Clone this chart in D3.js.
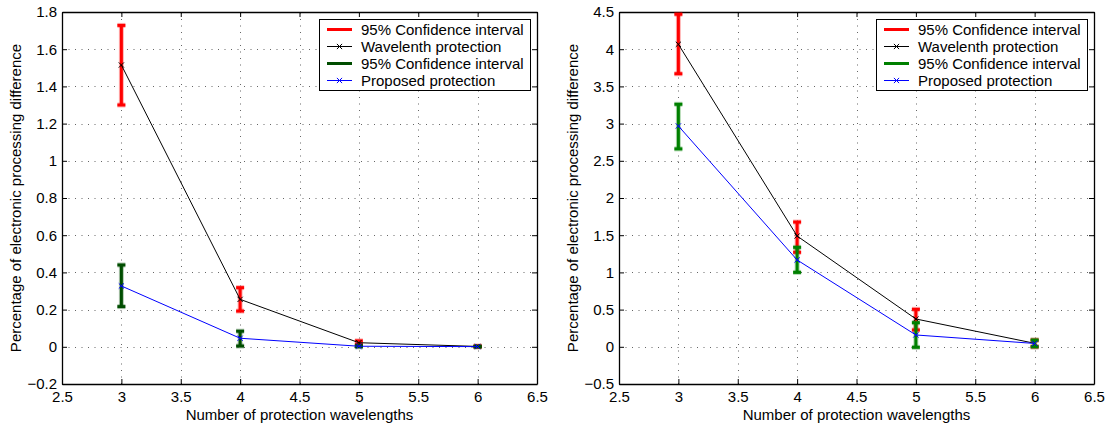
<!DOCTYPE html>
<html>
<head>
<meta charset="utf-8">
<script src="https://cdn.jsdelivr.net/npm/d3@7"></script>
<style>
  body { margin: 0; background: #fff; }
  svg text { font-family: "Liberation Sans", Arial, Helvetica, sans-serif; font-size: 15px; fill: #000; }
</style>
</head>
<body>
<svg id="chart" width="1112" height="425"></svg>
<script>
// Number of protection wavelengths (shared x values)
const wavelengths = [3, 4, 5, 6];
const xTicks = [2.5, 3, 3.5, 4, 4.5, 5, 5.5, 6, 6.5];

// Left panel: percentage difference with 95% confidence bounds
const leftYTicks = [-0.2, 0, 0.2, 0.4, 0.6, 0.8, 1, 1.2, 1.4, 1.6, 1.8];
const leftWavelengthMean = [1.515, 0.255, 0.022, 0.002];
const leftWavelengthLow  = [1.300, 0.192, 0.012, 0.000];
const leftWavelengthHigh = [1.728, 0.318, 0.032, 0.004];
const leftProposedMean   = [0.327, 0.046, 0.003, 0.001];
const leftProposedLow    = [0.216, 0.004, 0.000, 0.000];
const leftProposedHigh   = [0.440, 0.084, 0.006, 0.002];

// Right panel
const rightYTicks = [-0.5, 0, 0.5, 1, 1.5, 2, 2.5, 3, 3.5, 4, 4.5];
const rightWavelengthMean = [4.066, 1.489, 0.374, 0.047];
const rightWavelengthLow  = [3.670, 1.270, 0.226, 0.000];
const rightWavelengthHigh = [4.470, 1.677, 0.504, 0.090];
const rightProposedMean   = [2.968, 1.167, 0.159, 0.045];
const rightProposedLow    = [2.660, 1.000, -0.007, 0.000];
const rightProposedHigh   = [3.260, 1.337, 0.324, 0.090];

const legendLabels = ["95% Confidence interval", "Wavelenth protection", "95% Confidence interval", "Proposed protection"];
const xLabel = "Number of protection wavelengths";
const yLabel = "Percentage of electronic processing difference";

const svg = d3.select("#chart");
const fmt = d3.format("~g");

function drawPanel(cfg) {
  const x = d3.scaleLinear().domain([2.5, 6.5]).range([cfg.left, cfg.right]);
  const y = d3.scaleLinear().domain(cfg.yDomain).range([cfg.bottom, cfg.top]);
  const g = svg.append("g");

  // dotted grid
  const grid = g.append("g").attr("stroke", "#000").attr("stroke-opacity", 0.6)
    .attr("stroke-width", 1).attr("stroke-dasharray", "1,5.5").attr("fill", "none");
  xTicks.slice(1, -1).forEach(t => {
    grid.append("line").attr("x1", Math.round(x(t)) + 0.5).attr("x2", Math.round(x(t)) + 0.5)
      .attr("y1", cfg.bottom).attr("y2", cfg.top);
  });
  cfg.yTicks.slice(1, -1).forEach(t => {
    grid.append("line").attr("y1", Math.round(y(t)) + 0.5).attr("y2", Math.round(y(t)) + 0.5)
      .attr("x1", cfg.left).attr("x2", cfg.right);
  });

  // axes with inward ticks on all four sides
  const bottomAxis = g.append("g").attr("transform", `translate(0,${cfg.bottom})`)
    .call(d3.axisBottom(x).tickValues(xTicks).tickFormat(fmt).tickSizeInner(-5).tickSizeOuter(0).tickPadding(7));
  const topAxis = g.append("g").attr("transform", `translate(0,${cfg.top})`)
    .call(d3.axisTop(x).tickValues(xTicks).tickFormat("").tickSizeInner(-5).tickSizeOuter(0));
  const leftAxis = g.append("g").attr("transform", `translate(${cfg.left},0)`)
    .call(d3.axisLeft(y).tickValues(cfg.yTicks).tickFormat(fmt).tickSizeInner(-5).tickSizeOuter(0).tickPadding(5));
  const rightAxis = g.append("g").attr("transform", `translate(${cfg.right},0)`)
    .call(d3.axisRight(y).tickValues(cfg.yTicks).tickFormat("").tickSizeInner(-5).tickSizeOuter(0));
  [bottomAxis, topAxis, leftAxis, rightAxis].forEach(a => {
    a.selectAll("path.domain").attr("stroke", "#000").attr("stroke-width", 1.3);
    a.selectAll(".tick line").attr("stroke", "#000");
    a.selectAll("text").attr("font-size", 15).attr("font-family", null).attr("fill", "#000");
  });

  // axis titles
  g.append("text").attr("x", (cfg.left + cfg.right) / 2).attr("y", 420)
    .attr("text-anchor", "middle").text(xLabel);
  g.append("text").attr("transform", `translate(${cfg.left - 41},${(cfg.top + cfg.bottom) / 2}) rotate(-90)`)
    .attr("text-anchor", "middle").text(yLabel);

  const lineGen = d3.line().x(d => x(d[0])).y(d => y(d[1]));

  function errorBars(low, high, color) {
    const eb = g.append("g").attr("fill", "none").attr("stroke-linecap", "butt");
    [{w: 5, o: 0.3}, {w: 3, o: 1}].forEach(s => {
      wavelengths.forEach((w, i) => {
        const cx = x(w), y0 = y(low[i]), y1 = y(high[i]);
        eb.append("line").attr("x1", cx).attr("x2", cx).attr("y1", y0).attr("y2", y1)
          .attr("stroke", color).attr("stroke-width", s.w).attr("stroke-opacity", s.o);
        [y0, y1].forEach(yy => {
          eb.append("line").attr("x1", cx - 4).attr("x2", cx + 4).attr("y1", yy).attr("y2", yy)
            .attr("stroke", color).attr("stroke-width", s.w).attr("stroke-opacity", s.o);
        });
      });
    });
  }

  function xMarker(sel, cx, cy, color) {
    const r = 2.6;
    sel.append("path").attr("d", `M${cx - r},${cy - r}L${cx + r},${cy + r}M${cx - r},${cy + r}L${cx + r},${cy - r}`)
      .attr("stroke", color).attr("stroke-width", 1).attr("fill", "none");
  }

  function series(mean, color) {
    const s = g.append("g");
    s.append("path").datum(wavelengths.map((w, i) => [w, mean[i]]))
      .attr("d", lineGen).attr("fill", "none").attr("stroke", color).attr("stroke-width", 1);
    wavelengths.forEach((w, i) => xMarker(s, x(w), y(mean[i]), color));
  }

  errorBars(cfg.wLow, cfg.wHigh, "#ff0000");
  series(cfg.wMean, "#000000");
  errorBars(cfg.pLow, cfg.pHigh, cfg.green);
  series(cfg.pMean, "#0000ff");

  // legend
  const lw = 211, lh = 71;
  const lx = cfg.right - 7 - lw, ly = cfg.top + 7;
  const lg = g.append("g").attr("transform", `translate(${lx},${ly})`);
  lg.append("rect").attr("x", 0.5).attr("y", 0.5).attr("width", lw).attr("height", lh)
    .attr("fill", "#fff").attr("stroke", "#000").attr("stroke-width", 1);
  const styles = [
    {color: "#ff0000", thick: true},
    {color: "#000000", thick: false},
    {color: cfg.green, thick: true},
    {color: "#0000ff", thick: false}
  ];
  legendLabels.forEach((label, i) => {
    const cy = 10.5 + i * 17;
    const st = styles[i];
    lg.append("line").attr("x1", 8).attr("x2", 33).attr("y1", cy).attr("y2", cy)
      .attr("stroke", st.color).attr("stroke-width", st.thick ? 3 : 1);
    if (!st.thick) xMarker(lg, 20.5, cy, st.color);
    lg.append("text").attr("x", 42).attr("y", cy + 5.3).text(label);
  });
}

drawPanel({
  left: 62, right: 537, top: 12, bottom: 384,
  yDomain: [-0.2, 1.8], yTicks: leftYTicks, green: "#004d00",
  wMean: leftWavelengthMean, wLow: leftWavelengthLow, wHigh: leftWavelengthHigh,
  pMean: leftProposedMean, pLow: leftProposedLow, pHigh: leftProposedHigh
});
drawPanel({
  left: 619, right: 1094, top: 12, bottom: 384,
  yDomain: [-0.5, 4.5], yTicks: rightYTicks, green: "#008000",
  wMean: rightWavelengthMean, wLow: rightWavelengthLow, wHigh: rightWavelengthHigh,
  pMean: rightProposedMean, pLow: rightProposedLow, pHigh: rightProposedHigh
});
</script>
</body>
</html>
